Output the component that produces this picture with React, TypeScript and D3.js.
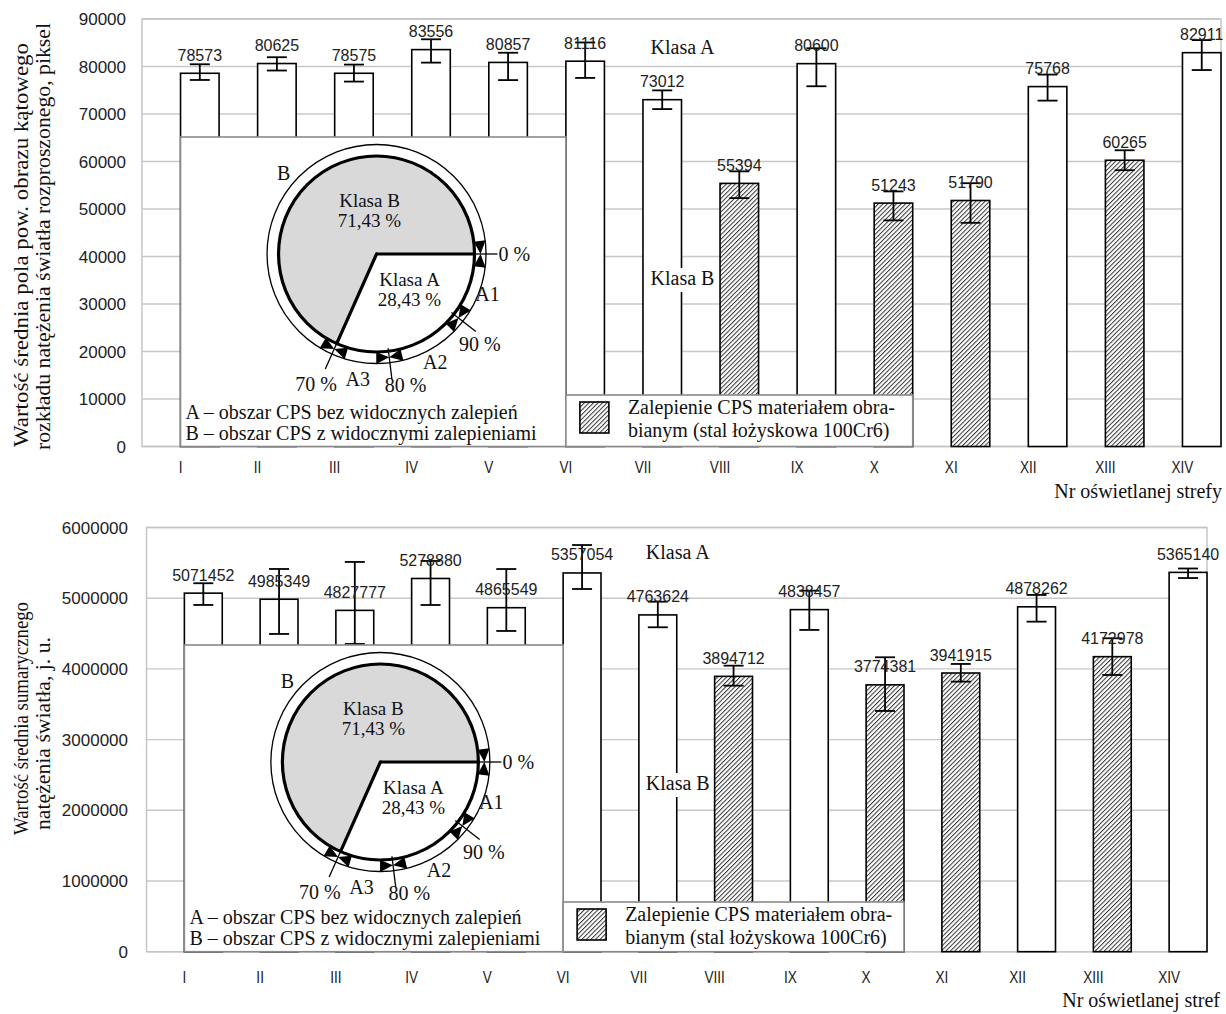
import React from 'react';
import * as d3 from 'd3';

const SERIF = '"Liberation Serif", "Times New Roman", serif';
const SANS = '"Liberation Sans", Arial, sans-serif';

// ---------- data ----------
const zones = ['I', 'II', 'III', 'IV', 'V', 'VI', 'VII', 'VIII', 'IX', 'X', 'XI', 'XII', 'XIII', 'XIV'];
const stuckZones = ['VIII', 'X', 'XI', 'XIII'];

const areaValues = [78573, 80625, 78575, 83556, 80857, 81116, 73012, 55394, 80600, 51243, 51790, 75768, 60265, 82911];
const areaErrPlus = [1900, 1330, 1830, 2170, 2040, 3940, 1960, 2530, 3240, 2460, 3640, 2530, 2100, 2650];
const areaErrMinus = [1410, 1470, 1750, 2740, 3720, 3520, 1980, 3100, 4760, 3640, 4700, 2950, 2100, 3660];
const areaTicks = [0, 10000, 20000, 30000, 40000, 50000, 60000, 70000, 80000, 90000];

const sumValues = [5071452, 4985349, 4827777, 5278880, 4865549, 5357054, 4763624, 3894712, 4838457, 3774381, 3941915, 4878262, 4172978, 5365140];
const sumErrPlus = [140000, 428000, 685000, 248000, 547000, 395000, 187000, 151000, 268000, 390000, 128000, 168000, 260000, 55000];
const sumErrMinus = [167000, 491000, 475000, 375000, 329000, 227000, 175000, 132000, 287000, 369000, 122000, 210000, 259000, 80000];
const sumTicks = [0, 1000000, 2000000, 3000000, 4000000, 5000000, 6000000];

const pieShares = [
  { name: 'Klasa A', value: 28.43 },
  { name: 'Klasa B', value: 71.43 },
];
// ring scale marks (degrees clockwise from 3 o'clock)
const ringMarks = [
  { label: '0 %', deg: 0 },
  { label: '90 %', deg: 38 },
  { label: '80 %', deg: 83 },
  { label: '70 %', deg: 114 },
];
const ringSegments = [
  { label: 'A1', from: 0, to: 38 },
  { label: 'A2', from: 38, to: 83 },
  { label: 'A3', from: 83, to: 114 },
  { label: 'B', from: 114, to: 360 },
];
// annotation placement in polar form (deg, radius)
const markLabelPos = { '90 %': [41, 137], '80 %': [77.5, 134], '70 %': [115, 143] };
const segLabelPos = { A1: [20, 118], A2: [61.5, 123], A3: [98.6, 126], B: [221, 123] };

const insetLines = ['A – obszar CPS bez widocznych zalepień', 'B – obszar CPS z widocznymi zalepieniami'];
const legendLines = ['Zalepienie CPS materiałem obra-', 'bianym (stal łożyskowa 100Cr6)'];

const fmtPct = (v: number) => v.toFixed(2).replace('.', ',') + ' %';

// ---------- pie inset ----------
function PieInset({ cx, cy }: { cx: number; cy: number }) {
  const rIn = 98, rOut = 109.5, rMid = 104;
  const rad = (d: number) => (d * Math.PI) / 180;
  const pt = (deg: number, r: number): [number, number] => [cx + r * Math.cos(rad(deg)), cy + r * Math.sin(rad(deg))];
  const boundary = ringMarks[ringMarks.length - 1].deg;
  const arcB = d3.arc()({
    innerRadius: 0,
    outerRadius: rIn,
    startAngle: rad(boundary + 90),
    endAngle: rad(360 + 90),
  } as any) as string;

  const arrow = (tipDeg: number, dir: number) => {
    const L = 13, hw = 6;
    const baseDeg = tipDeg + dir * (L / rMid) * (180 / Math.PI);
    const tip = pt(tipDeg, rMid);
    const b1 = pt(baseDeg, rMid - hw);
    const b2 = pt(baseDeg, rMid + hw);
    return `M${tip[0]},${tip[1]}L${b1[0]},${b1[1]}L${b2[0]},${b2[1]}Z`;
  };

  const A = pieShares[0], B = pieShares[1];
  return (
    <g fontFamily={SERIF} fontSize={20} fill="#111">
      <path d={arcB} transform={`translate(${cx},${cy})`} fill="#d9d9d9" />
      <circle cx={cx} cy={cy} r={rOut} fill="none" stroke="#000" strokeWidth={1.3} />
      <circle cx={cx} cy={cy} r={rIn} fill="none" stroke="#000" strokeWidth={3.2} />
      <line x1={cx} y1={cy} x2={pt(0, rIn)[0]} y2={pt(0, rIn)[1]} stroke="#000" strokeWidth={3.2} />
      <line x1={cx} y1={cy} x2={pt(boundary, rIn)[0]} y2={pt(boundary, rIn)[1]} stroke="#000" strokeWidth={3.2} strokeLinecap="round" />
      {ringMarks.map((m) => {
        const r2 = m.deg === 0 ? 121 : 126;
        const p1 = pt(m.deg, rIn - 3), p2 = pt(m.deg, r2);
        return <line key={m.label} x1={p1[0]} y1={p1[1]} x2={p2[0]} y2={p2[1]} stroke="#000" strokeWidth={1.3} />;
      })}
      {ringSegments.map((s) => (
        <g key={s.label}>
          <path d={arrow(s.from, 1)} fill="#000" />
          <path d={arrow(s.to, -1)} fill="#000" />
        </g>
      ))}
      {ringMarks.map((m) => {
        if (m.deg === 0) {
          const p = pt(0, 121);
          return <text key={m.label} x={p[0] + 1} y={p[1] + 7}>{m.label}</text>;
        }
        const [d, r] = (markLabelPos as any)[m.label];
        const p = pt(d, r);
        return <text key={m.label} x={p[0]} y={p[1] + 7} textAnchor="middle">{m.label}</text>;
      })}
      {ringSegments.map((s) => {
        const [d, r] = (segLabelPos as any)[s.label];
        const p = pt(d, r);
        return <text key={s.label} x={p[0]} y={p[1] + 7} textAnchor="middle">{s.label}</text>;
      })}
      <g fontSize={19}>
        <text x={cx - 7} y={cy - 47} textAnchor="middle">{B.name}</text>
        <text x={cx - 7} y={cy - 27} textAnchor="middle">{fmtPct(B.value)}</text>
        <text x={cx + 33} y={cy + 32} textAnchor="middle">{A.name}</text>
        <text x={cx + 33} y={cy + 52} textAnchor="middle">{fmtPct(A.value)}</text>
      </g>
    </g>
  );
}

// ---------- bar panel ----------
type PanelProps = {
  values: number[]; plus: number[]; minus: number[]; ticks: number[]; yMax: number;
  left: number; right: number; top: number; bottom: number;
  tickRight: number; catY: number; insetTop: number; legendTop: number;
  klasaAY: number; klasaBY: number; titleLines: string[]; titleStarts: number[]; titleLengths: number[];
  xTitle: string; xTitleRight: number; xTitleY: number;
};

function BarPanel(p: PanelProps) {
  const x = d3.scaleBand<string>().domain(zones).range([p.left, p.right]);
  const y = d3.scaleLinear().domain([0, p.yMax]).range([p.bottom, p.top]);
  const bw = x.bandwidth();
  const barW = bw * 0.5;
  const cx = (z: string) => (x(z) as number) + bw / 2;
  const capW = 20;

  const insetL = cx('I');
  const insetR = cx('VI');
  const legendR = cx('X') + barW;
  const klasaX = (cx('VII') + cx('VIII')) / 2 + 1;

  return (
    <g>
      {/* gridlines */}
      {p.ticks.map((t) => (
        <line key={t} x1={p.left} x2={p.right} y1={y(t)} y2={y(t)} stroke="#c8c8c8" strokeWidth={1.4} />
      ))}
      <rect x={p.left} y={p.top} width={p.right - p.left} height={p.bottom - p.top} fill="none" stroke="#c3c3c3" strokeWidth={1.4} />
      {/* tick labels */}
      {p.ticks.map((t) => (
        <text key={t} x={p.tickRight} y={y(t)} dy="0.36em" textAnchor="end" fontSize={17} fill="#222">{t}</text>
      ))}
      {/* bars */}
      {zones.map((z, i) => (
        <rect key={z} x={cx(z)} y={y(p.values[i])} width={barW} height={p.bottom - y(p.values[i])}
          fill={stuckZones.includes(z) ? 'url(#hatch)' : '#fff'} stroke="#000" strokeWidth={1.6} />
      ))}
      {/* error bars */}
      {zones.map((z, i) => {
        const mx = cx(z) + barW / 2;
        const hi = y(p.values[i] + p.plus[i]);
        const lo = y(p.values[i] - p.minus[i]);
        return (
          <g key={z} stroke="#000" strokeWidth={1.8}>
            <line x1={mx} x2={mx} y1={hi} y2={lo} />
            <line x1={mx - capW / 2} x2={mx + capW / 2} y1={hi} y2={hi} />
            <line x1={mx - capW / 2} x2={mx + capW / 2} y1={lo} y2={lo} />
          </g>
        );
      })}
      {/* data labels */}
      {zones.map((z, i) => (
        <text key={z} x={cx(z) + barW / 2} y={y(p.values[i]) - 12.5} textAnchor="middle" fontSize={16} fill="#222">
          {p.values[i]}
        </text>
      ))}
      {/* category labels (condensed sans) */}
      {zones.map((z) => (
        <text key={z} transform={`translate(${cx(z)},${p.catY}) scale(0.8,1)`} textAnchor="middle" fontSize={17} fill="#222">{z}</text>
      ))}
      {/* inset with pie */}
      <rect x={insetL} y={p.insetTop} width={insetR - insetL} height={p.bottom - p.insetTop} fill="#fff" stroke="#8a8a8a" strokeWidth={1.6} />
      <PieInset cx={insetL + 196} cy={p.insetTop + 117} />
      {insetLines.map((l, i) => (
        <text key={l} x={insetL + 5} y={p.bottom - 28 + i * 21.5} fontFamily={SERIF} fontSize={20} fill="#111">{l}</text>
      ))}
      {/* legend */}
      <rect x={insetR} y={p.legendTop} width={legendR - insetR} height={p.bottom - p.legendTop} fill="#fff" stroke="#8a8a8a" strokeWidth={1.6} />
      <rect x={insetR + 14} y={p.legendTop + 7} width={29} height={31} fill="url(#hatch)" stroke="#000" strokeWidth={1.6} />
      {legendLines.map((l, i) => (
        <text key={l} x={insetR + 62} y={p.legendTop + 19 + i * 23} fontFamily={SERIF} fontSize={20} fill="#111">{l}</text>
      ))}
      {/* class labels */}
      <rect x={klasaX - 33} y={p.klasaAY - 16} width={66} height={21} fill="#fff" />
      <text x={klasaX} y={p.klasaAY} textAnchor="middle" fontFamily={SERIF} fontSize={20} fill="#111">Klasa A</text>
      <rect x={klasaX - 33} y={p.klasaBY - 17} width={66} height={24} fill="#fff" />
      <text x={klasaX} y={p.klasaBY} textAnchor="middle" fontFamily={SERIF} fontSize={20} fill="#111">Klasa B</text>
      {/* axis titles */}
      {p.titleLines.map((l, i) => (
        <text key={l} transform={`translate(${28 + i * 22},${p.titleStarts[i]}) rotate(-90)`} fontFamily={SERIF} fontSize={20}
          textLength={p.titleLengths[i]} lengthAdjust="spacingAndGlyphs" fill="#111">{l}</text>
      ))}
      <text x={p.xTitleRight} y={p.xTitleY} textAnchor="end" fontFamily={SERIF} fontSize={20} fill="#111">{p.xTitle}</text>
    </g>
  );
}

export default function App() {
  return (
    <svg width={1226} height={1014} style={{ position: 'absolute', left: 0, top: 0, background: '#fff' }} fontFamily={SANS}>
      <defs>
        <pattern id="hatch" width="3.2" height="3.2" patternUnits="userSpaceOnUse" patternTransform="rotate(45)">
          <rect width="3.2" height="3.2" fill="#fff" />
          <line x1="0.5" y1="0" x2="0.5" y2="3.2" stroke="#333" strokeWidth="1" />
        </pattern>
      </defs>
      <BarPanel
        values={areaValues} plus={areaErrPlus} minus={areaErrMinus} ticks={areaTicks} yMax={90000}
        left={142} right={1221} top={19} bottom={446.5} tickRight={126} catY={473}
        insetTop={137} legendTop={395} klasaAY={54} klasaBY={285}
        titleLines={['Wartość średnia pola pow. obrazu kątowego', 'rozkładu natężenia światła rozproszonego, piksel']}
        titleStarts={[447, 450]} titleLengths={[404, 427]}
        xTitle="Nr oświetlanej strefy" xTitleRight={1222} xTitleY={498}
      />
      <BarPanel
        values={sumValues} plus={sumErrPlus} minus={sumErrMinus} ticks={sumTicks} yMax={6000000}
        left={146.5} right={1207} top={527.5} bottom={951.7} tickRight={128} catY={983}
        insetTop={645} legendTop={902} klasaAY={559} klasaBY={790}
        titleLines={['Wartość średnia sumarycznego', 'natężenia światła, j. u.']}
        titleStarts={[835, 830]} titleLengths={[233, 193]}
        xTitle="Nr oświetlanej stref" xTitleRight={1220} xTitleY={1007}
      />
    </svg>
  );
}
